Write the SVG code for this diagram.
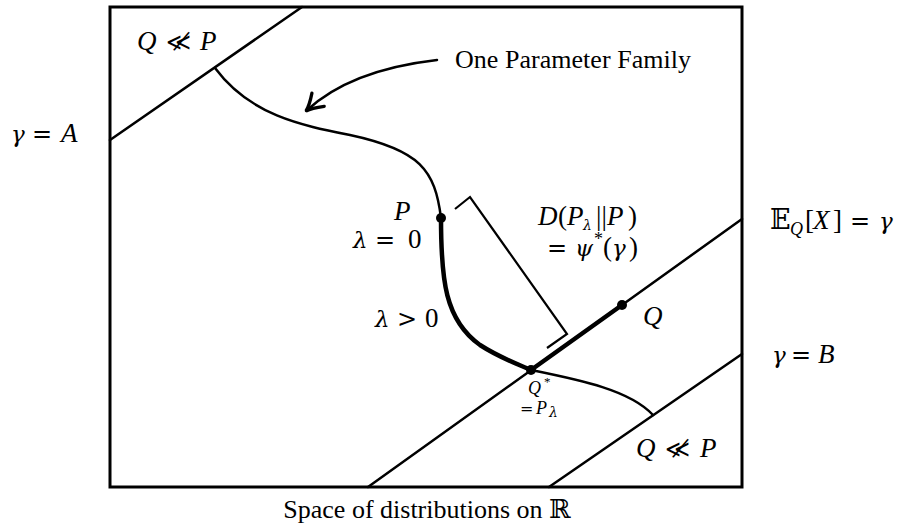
<svg xmlns="http://www.w3.org/2000/svg" width="897" height="524" viewBox="0 0 897 524">
<defs>
<style>
text{font-family:"Liberation Serif","DejaVu Serif","DejaVu Sans",serif;fill:#000}
.m{font-size:27px}
.s{font-size:18px}
.xs{font-size:13px}
.i{font-style:italic}
.o{font-family:"DejaVu Serif",serif;font-style:normal;font-size:24px}
.os{font-family:"DejaVu Serif",serif;font-style:normal;font-size:16px}
.g{font-family:"DejaVu Serif",serif;font-style:italic;font-size:23px}
.gs{font-family:"DejaVu Serif",serif;font-style:italic;font-size:14px}
.ln{fill:none;stroke:#000;stroke-width:2.5;stroke-linecap:round;stroke-linejoin:round}
</style>
<marker id="ah" markerUnits="userSpaceOnUse" markerWidth="24" markerHeight="24" refX="0" refY="0" viewBox="-14 -8 16 16" orient="auto">
<path d="M-11,-6 Q-4,-1 0,0 Q-4,1 -11,6" fill="none" stroke="#000" stroke-width="2.2" stroke-linecap="round"/>
</marker>
</defs>
<rect width="897" height="524" fill="#fff"/>
<g id="frame">
<rect x="110" y="7" width="632" height="480" fill="none" stroke="#000" stroke-width="3"/>
</g>
<g id="boundaries">
<line class="ln" x1="110" y1="140" x2="302" y2="7"/>
<line class="ln" x1="368" y1="487" x2="742" y2="219"/>
<line class="ln" x1="549" y1="487" x2="742" y2="354"/>
</g>
<g id="connectors">
<path class="ln" d="M215,68 C250,115 300,125 350,135 C420,150 435,170 441,218"/>
<path d="M441,218 C441,280 445,320 480,345 C500,358 520,365 531,370" fill="none" stroke="#000" stroke-width="4.5" stroke-linecap="round"/>
<path class="ln" d="M531,370 C580,380 630,390 653,415"/>
<line x1="531" y1="370" x2="622" y2="305" stroke="#000" stroke-width="4.5" stroke-linecap="round"/>
<polyline points="455,209 470,197 567,334 547,348" fill="none" stroke="#000" stroke-width="2.2"/>
<path class="ln" d="M437,60 Q350,70 306,111" marker-end="url(#ah)"/>
</g>
<g id="points">
<circle id="P" cx="441" cy="218" r="5"/>
<circle id="Qstar" cx="531" cy="370" r="5"/>
<circle id="Q" cx="622" cy="305" r="5"/>
</g>
<g id="labels">
<text class="m" y="50"><tspan class="i" x="137">Q</tspan><tspan class="o" x="166">≪̸</tspan><tspan class="i" x="200">P</tspan></text>
<text class="m" y="142"><tspan class="g" x="11">γ</tspan><tspan class="o" x="32">=</tspan><tspan class="i" x="61">A</tspan></text>
<text x="455" y="68" font-size="26" textLength="236">One Parameter Family</text>
<text class="m i" x="394" y="220">P</text>
<text class="m" y="248"><tspan class="g" x="353">λ</tspan><tspan class="o" x="375">=</tspan><tspan x="408">0</tspan></text>
<text class="m" y="327"><tspan class="g" x="375">λ</tspan><tspan class="o" x="397">&gt;</tspan><tspan x="425">0</tspan></text>
<text class="m" y="225"><tspan class="i" x="538">D</tspan><tspan x="558">(</tspan><tspan class="i" x="567">P</tspan><tspan class="gs" x="583" y="230">λ</tspan><tspan x="596" y="225">||</tspan><tspan class="i" x="607">P</tspan><tspan x="628">)</tspan></text>
<text class="m" y="256"><tspan class="o" x="547">=</tspan><tspan class="g" x="575">ψ</tspan><tspan class="s" x="594" y="245">*</tspan><tspan x="603" y="256">(</tspan><tspan class="g" x="612">γ</tspan><tspan x="629">)</tspan></text>
<text class="m" y="229"><tspan x="770">𝔼</tspan><tspan class="s i" x="790" y="235">Q</tspan><tspan x="805" y="229">[</tspan><tspan class="i" x="813">X</tspan><tspan x="833">]</tspan><tspan class="o" x="850">=</tspan><tspan class="g" x="879">γ</tspan></text>
<text class="m i" x="643" y="325">Q</text>
<text class="m" y="363"><tspan class="g" x="772">γ</tspan><tspan class="o" x="791">=</tspan><tspan class="i" x="818">B</tspan></text>
<text class="s" y="394"><tspan class="i" x="528">Q</tspan><tspan class="xs" x="544" y="386">*</tspan></text>
<text class="s" y="414"><tspan class="os" x="520">=</tspan><tspan class="i" x="536">P</tspan><tspan class="gs" x="549" y="417" font-size="11">λ</tspan></text>
<text class="m" y="457"><tspan class="i" x="636">Q</tspan><tspan class="o" x="665">≪̸</tspan><tspan class="i" x="700">P</tspan></text>
<text x="427" y="518" font-size="26" text-anchor="middle">Space of distributions on ℝ</text>
</g>
</svg>
